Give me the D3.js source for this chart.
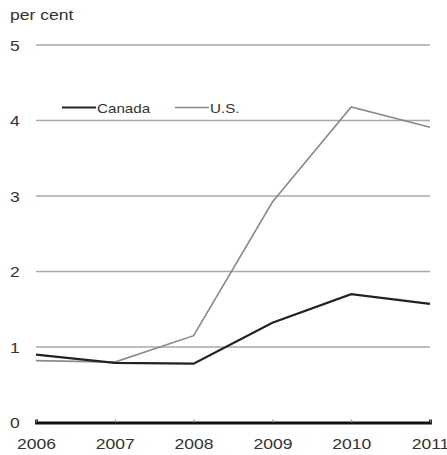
<!DOCTYPE html>
<html><head><meta charset="utf-8">
<script src="https://cdn.jsdelivr.net/npm/d3@7"></script>
<style>body{margin:0;background:#fff;} svg{display:block;font-family:"Liberation Sans",Arial,sans-serif;}</style>
</head><body>
<svg id="c" width="447" height="455"></svg>
<script>
const years = [2006, 2007, 2008, 2009, 2010, 2011];
const canada = [0.90, 0.79, 0.78, 1.32, 1.70, 1.57];
const us = [0.82, 0.80, 1.15, 2.92, 4.18, 3.91];
const yTicks = [0, 1, 2, 3, 4, 5];
const seriesNames = ["Canada", "U.S."];
const unitLabel = "per cent";

const SX = 1.17; // horizontal stretch of text in the reference
const svg = d3.select("#c");
const x = d3.scaleLinear().domain([2006, 2011]).range([36, 430]);
const y = d3.scaleLinear().domain([0, 5]).range([422.5, 45]);

// gridlines
svg.append("g").selectAll("line").data(yTicks.filter(d => d > 0)).join("line")
  .attr("x1", x(2006)).attr("x2", x(2011))
  .attr("y1", d => y(d)).attr("y2", d => y(d))
  .attr("stroke", "#a8a8a8").attr("stroke-width", 1.5);

// y labels
svg.append("g").selectAll("text").data(yTicks).join("text")
  .attr("transform", d => `translate(10,${y(d) + 5.5}) scale(${SX},1)`)
  .attr("font-size", 15).attr("fill", "#333").text(d => d);

svg.append("text").attr("transform", `translate(10,20) scale(${SX},1)`)
  .attr("font-size", 15).attr("fill", "#333").text(unitLabel);

// x axis
const xAxis = d3.axisBottom(x).tickValues(years).tickFormat(d3.format("d")).tickSize(-3).tickPadding(16);
const gx = svg.append("g").attr("transform", `translate(0,${y(0)})`).call(xAxis);
gx.select(".domain").attr("stroke", "#111").attr("stroke-width", 2.8);
gx.selectAll(".tick line").attr("stroke", "#888");
gx.selectAll(".tick text").attr("font-size", 15).attr("fill", "#333")
  .attr("font-family", "\"Liberation Sans\",Arial,sans-serif")
  .attr("transform", `scale(${SX},1)`);

const line = d3.line().x((d, i) => x(years[i])).y(d => y(d));
svg.append("path").datum(us).attr("d", line).attr("fill", "none")
  .attr("stroke", "#8a8a8a").attr("stroke-width", 1.6);
svg.append("path").datum(canada).attr("d", line).attr("fill", "none")
  .attr("stroke", "#222").attr("stroke-width", 2.2);

// legend
const leg = [
  {name: seriesNames[0], x0: 62, color: "#222", w: 2.2},
  {name: seriesNames[1], x0: 175, color: "#8a8a8a", w: 1.6}
];
const lg = svg.append("g").selectAll("g").data(leg).join("g");
lg.append("line").attr("x1", d => d.x0).attr("x2", d => d.x0 + 34)
  .attr("y1", 107.5).attr("y2", 107.5).attr("stroke", d => d.color).attr("stroke-width", d => d.w);
lg.append("text").attr("transform", d => `translate(${d.x0 + 35},113) scale(${SX},1)`)
  .attr("font-size", 13).attr("fill", "#333").text(d => d.name);
</script>
</body></html>
